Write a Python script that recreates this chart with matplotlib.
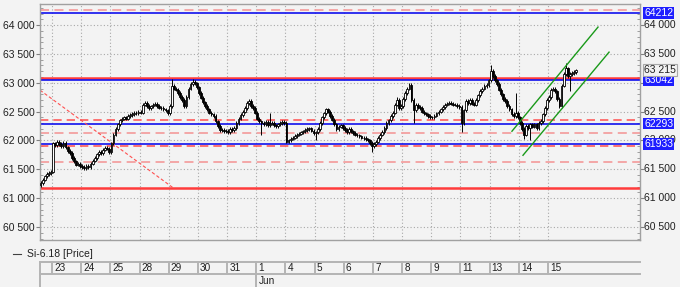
import numpy as np
import matplotlib.pyplot as plt
from matplotlib.lines import Line2D
from matplotlib.ticker import MultipleLocator

plt.rcParams['font.family'] = ['Liberation Sans', 'DejaVu Sans']

# Trading days shown on the date axis (14 hourly bars each)
day_labels = ['23', '24', '25', '28', '29', '30', '31', '1', '4', '5',
              '6', '7', '8', '9', '11', '13', '14', '15']
month_label = 'Jun'
month_start_day = '1'

# Hourly closes (Si-6.18)
first_open = 61220
may22 = [61260, 61320, 61380, 61420, 61440, 61460]
may23 = [61950, 61920, 61980, 61940, 61900, 61960, 61880, 61820, 61780, 61700, 61640, 61580, 61600, 61560]
may24 = [61540, 61520, 61560, 61540, 61600, 61650, 61700, 61760, 61800, 61780, 61840, 61870, 61860, 61800]
may25 = [61950, 62100, 62200, 62280, 62350, 62380, 62400, 62380, 62420, 62440, 62460, 62480, 62470, 62490]
may28 = [62480, 62620, 62650, 62600, 62560, 62590, 62620, 62640, 62600, 62570, 62560, 62540, 62520, 62470]
may29 = [62600, 62950, 62900, 62880, 62820, 62750, 62700, 62600, 62750, 62900, 62980, 63020, 62990, 62920]
may30 = [62820, 62740, 62660, 62600, 62540, 62480, 62450, 62420, 62330, 62250, 62180, 62190, 62160, 62170]
may31 = [62150, 62200, 62180, 62220, 62300, 62380, 62440, 62500, 62560, 62650, 62690, 62600, 62560, 62480]
jun01 = [62380, 62330, 62300, 62280, 62320, 62260, 62290, 62300, 62260, 62250, 62280, 62300, 62320, 62300]
jun04 = [61980, 62000, 62030, 62050, 62080, 62100, 62120, 62140, 62160, 62180, 62200, 62210, 62170, 62130]
jun05 = [62140, 62200, 62300, 62400, 62470, 62540, 62500, 62420, 62360, 62280, 62200, 62240, 62260, 62220]
jun06 = [62180, 62140, 62200, 62160, 62130, 62100, 62090, 62070, 62050, 62040, 62020, 62000, 61960, 61900]
jun07 = [61940, 61980, 62040, 62100, 62150, 62220, 62300, 62350, 62420, 62480, 62620, 62700, 62560, 62600]
jun08 = [62720, 62820, 62900, 62960, 62700, 62520, 62620, 62580, 62560, 62500, 62470, 62450, 62420, 62400]
jun09 = [62400, 62430, 62470, 62500, 62540, 62580, 62620, 62640, 62650, 62640, 62620, 62620, 62600, 62580]
jun11 = [62300, 62520, 62680, 62650, 62700, 62640, 62620, 62700, 62780, 62860, 62900, 62940, 62960, 63040]
jun13 = [63200, 63120, 63040, 62980, 62880, 62800, 62720, 62680, 62600, 62540, 62460, 62420, 62480, 62400]
jun14 = [62300, 62200, 62100, 62250, 62220, 62280, 62240, 62280, 62220, 62300, 62340, 62450, 62560, 62700]
jun15 = [62750, 62880, 62900, 62850, 62720, 62600, 62950, 63150, 63250, 63120, 63150, 63170, 63190, 63215]

# Long wicks: (day, bar in day, high, low)
wick_spikes = [
    ('29', 1, 63060, None), ('29', 11, 63070, None),
    ('1', 2, None, 62090), ('1', 6, 62480, None),
    ('5', 0, None, 62000), ('6', 13, None, 61800),
    ('7', 11, 62760, None), ('8', 5, None, 62310),
    ('11', 0, None, 62140), ('13', 0, 63300, None),
    ('13', 12, 62820, None), ('14', 2, None, 62020),
    ('14', 5, None, 62000), ('15', 8, 63350, None),
    ('15', 10, None, 62860),
]
last_price = 63215

# Price scale labels
left_ticks = [60500, 61000, 61500, 62000, 62500, 63000, 63500, 64000]
right_ticks = [60500, 61000, 61500, 62000, 62500, 63500, 64000]

# Horizontal levels
solid_red_levels = [63075, 61180]
blue_levels = [64212, 63042, 62293, 61933]
dashed_red_levels = [62350, 61903]
dashed_pink_levels = [64262, 62130, 61620]

# Trend lines: ([bar0, bar1], [price0, price1])
red_diag = ([-5.76, 58.1], [62872, 61180])
channel_upper = ([220.7, 262.0], [62160, 63965])
channel_lower = ([226.0, 267.3], [61743, 63531])

bars_per_day = 14
wick_pad = 30
bg = '#f3f3f3'


def fmt(v):
    return f'{int(v):,}'.replace(',', ' ')


closes = np.array(may22 + may23 + may24 + may25 + may28 + may29 + may30 + may31 +
                  jun01 + jun04 + jun05 + jun06 + jun07 + jun08 + jun09 + jun11 +
                  jun13 + jun14 + jun15, dtype=float)
opens = np.concatenate([[first_open], closes[:-1]])
x = np.arange(len(closes)) - len(may22) + 0.5
highs = np.maximum(opens, closes) + wick_pad
lows = np.minimum(opens, closes) - wick_pad

day_start = {'22': -len(may22)}
for k, d in enumerate(day_labels):
    day_start[d] = k * bars_per_day
for d, b, hi, lo in wick_spikes:
    i = day_start[d] + b + len(may22)
    if hi is not None:
        highs[i] = hi
    if lo is not None:
        lows[i] = lo

fig = plt.figure(figsize=(6.8, 2.87), dpi=100, facecolor=bg)
ax = fig.add_axes([40 / 680, 47 / 287, 600 / 680, 236 / 287], facecolor=bg)
ax.set_xlim(-5.76, 282.15)
ax.set_ylim(60275, 64365)

# grid
boundaries = [day_start[d] for d in day_labels]
ax.set_xticks(boundaries)
ax.set_xticklabels([])
ax.set_yticks(left_ticks)
ax.set_yticklabels([fmt(v) for v in left_ticks])
ax.grid(True, color='#a8a8a8', linestyle=(0, (1, 2)), linewidth=0.8)
ax.set_axisbelow(True)
ax.yaxis.set_minor_locator(MultipleLocator(100))
ax.tick_params(axis='x', length=0)
ax.tick_params(axis='y', which='major', direction='out', length=3, width=0.8,
               color='#808080', labelsize=7.5, pad=1, left=True, right=True,
               labelleft=True, labelright=False, labelcolor='#202020')
ax.tick_params(axis='y', which='minor', direction='in', length=2, width=0.6,
               color='#909090', left=True, right=True)
for s in ax.spines.values():
    s.set_color('#a0a0a0')
    s.set_linewidth(1)

ytr = ax.get_yaxis_transform()
for v in right_ticks:
    ax.text(1.0067, v, fmt(v), transform=ytr, ha='left', va='center', fontsize=7.5,
            color='#202020', clip_on=False)

# levels
for v in dashed_pink_levels:
    ax.axhline(v, color='#f4a0a0', lw=1.3, linestyle=(0, (5, 3)), zorder=2)
for v in dashed_red_levels:
    ax.axhline(v, color='#ff5c5c', lw=1.2, linestyle=(0, (5, 3)), zorder=2)
for v in solid_red_levels:
    ax.axhline(v, color='#ff3b3b', lw=1.8, zorder=2)
for v in blue_levels:
    ax.axhline(v, color='#1010ee', lw=1.2, zorder=2)

ax.plot(*red_diag, color='#ff5050', lw=0.8, linestyle=(0, (3, 2)), zorder=2)
ax.plot(*channel_upper, color='#1a9a1a', lw=1, zorder=4)
ax.plot(*channel_lower, color='#1a9a1a', lw=1, zorder=4)

# candles
ax.vlines(x, lows, highs, color='black', lw=0.7, zorder=3)
up = closes >= opens
ax.bar(x, np.abs(closes - opens), bottom=np.minimum(opens, closes), width=0.85,
       color=np.where(up, 'white', 'black'), edgecolor='black', linewidth=0.6, zorder=3)

# price tags on right axis
for v in blue_levels:
    ax.text(1.0067, v, str(v), transform=ytr, ha='left', va='center', fontsize=7.5,
            color='white', zorder=10, clip_on=False,
            bbox=dict(boxstyle='square,pad=0.08', fc='#1e1eff', ec='none'))
ax.text(1.0067, last_price, fmt(last_price), transform=ytr,
        ha='left', va='center', fontsize=7.5, color='#202020', zorder=10, clip_on=False,
        bbox=dict(boxstyle='square,pad=0.1', fc=bg, ec='#a8a8a8', lw=0.8))

# legend
fig.add_artist(Line2D([13 / 680, 21 / 680], [1 - 254 / 287] * 2, color='#404040', lw=0.8))
fig.text(27 / 680, 1 - 254 / 287, 'Si-6.18 [Price]', fontsize=7.5, va='center', ha='left',
         color='#202020')

# date axis
dx = fig.add_axes([40 / 680, 0, 600 / 680, 25 / 287], facecolor=bg)
dx.set_xlim(ax.get_xlim())
dx.set_ylim(0, 25)
dx.axis('off')
sep = dict(color='#b4b4b4', lw=1.4, clip_on=False)
dx.plot(dx.get_xlim(), [25, 25], **sep)
dx.plot(dx.get_xlim(), [13, 13], **sep)
dx.plot([-5.76, -5.76], [0, 25], **sep)
for d in day_labels:
    b = day_start[d]
    dx.plot([b, b], [13, 25], **sep)
    dx.text(b + 1, 19, d, fontsize=7.2, va='center', ha='left', color='#202020')
mb = day_start[month_start_day]
dx.plot([mb, mb], [0, 13], **sep)
dx.text(mb + 1, 6.2, month_label, fontsize=7.2, va='center', ha='left', color='#202020')

fig.savefig('out.png', dpi=100, facecolor=bg)
